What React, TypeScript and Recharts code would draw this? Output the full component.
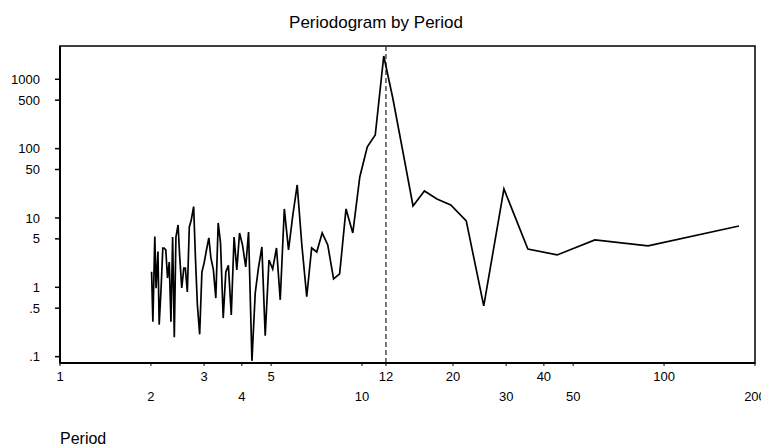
import React from 'react';
import {
  LineChart,
  Line,
  XAxis,
  YAxis,
  ReferenceLine,
  ReferenceArea,
} from 'recharts';

// periods (series length 177 / harmonic k, k = 1..88)
const periods = [
  177, 88.5, 59, 44.25, 35.4, 29.5, 25.29, 22.13, 19.67, 17.7,
  16.09, 14.75, 13.62, 12.64, 11.8, 11.06, 10.41, 9.83, 9.32, 8.85,
  8.43, 8.05, 7.7, 7.38, 7.08, 6.81, 6.56, 6.32, 6.1, 5.9,
  5.71, 5.53, 5.36, 5.21, 5.06, 4.92, 4.78, 4.66, 4.54, 4.43,
  4.32, 4.21, 4.12, 4.02, 3.93, 3.85, 3.77, 3.69, 3.61, 3.54,
  3.47, 3.4, 3.34, 3.28, 3.22, 3.16, 3.11, 3.05, 3.0, 2.95,
  2.9, 2.85, 2.81, 2.77, 2.72, 2.68, 2.64, 2.6, 2.57, 2.53,
  2.49, 2.46, 2.42, 2.39, 2.36, 2.33, 2.3, 2.27, 2.24, 2.21,
  2.19, 2.16, 2.13, 2.11, 2.08, 2.06, 2.03, 2.01,
];

const periodogram = [
  7.67, 3.95, 4.82, 2.93, 3.56, 26.2, 0.54, 9.06, 15.4, 18.8,
  24.5, 14.9, 95.7, 537, 2168, 157, 106, 39.0, 6.08, 13.5,
  1.56, 1.32, 4.08, 6.08, 3.23, 3.69, 0.73, 4.08, 29.9, 11.0,
  3.46, 13.5, 0.66, 3.69, 1.84, 2.48, 0.2, 3.82, 1.9, 0.83,
  0.087, 6.28, 1.97, 4.08, 6.08, 1.78, 5.32, 0.4, 2.07, 1.66,
  0.36, 4.36, 8.47, 0.7, 1.78, 2.65, 5.15, 3.34, 2.24, 1.66,
  0.21, 0.56, 2.48, 14.6, 9.35, 7.42, 0.86, 1.9, 1.9, 0.98,
  2.83, 7.93, 5.32, 0.19, 5.32, 0.32, 2.32, 1.36, 3.46, 3.69,
  3.69, 0.92, 0.29, 3.27, 0.97, 5.38, 0.32, 1.68,
];

const xTicks = [1, 2, 3, 4, 5, 10, 12, 20, 30, 40, 50, 100, 200];
const xLowerRow = [2, 4, 10, 30, 50, 200];
const yTicks = [0.1, 0.5, 1, 5, 10, 50, 100, 500, 1000];
const yLabels = ['.1', '.5', '1', '5', '10', '50', '100', '500', '1000'];

const X_DOMAIN = [1, 200];
const Y_DOMAIN = [0.081, 3020];

const data = periods.map((p, i) => ({ period: p, value: periodogram[i] }));

const FONT = '"Liberation Sans", Arial, sans-serif';

const XTick = ({ x, y, payload }: any) => {
  const low = xLowerRow.includes(payload.value);
  return (
    <text
      x={x}
      y={y + (low ? 35 : 15)}
      textAnchor="middle"
      fontSize={13}
      fontFamily={FONT}
      fill="#000"
    >
      {payload.value}
    </text>
  );
};

export default function App() {
  return (
    <div style={{ position: 'absolute', left: 0, top: 0, width: 761, height: 448 }}>
      <LineChart
        width={761}
        height={448}
        data={data}
        margin={{ top: 46, right: 6, left: 0, bottom: 0 }}
      >
        <XAxis
          dataKey="period"
          type="number"
          scale="log"
          domain={X_DOMAIN}
          ticks={xTicks}
          interval={0}
          allowDataOverflow
          height={85}
          tickSize={3}
          tickMargin={0}
          tick={<XTick />}
          axisLine={{ stroke: '#000', strokeWidth: 2 }}
          tickLine={{ stroke: '#000' }}
        />
        <YAxis
          type="number"
          scale="log"
          domain={Y_DOMAIN}
          ticks={yTicks}
          interval={0}
          allowDataOverflow
          width={60}
          tickSize={5}
          tickMargin={15}
          tickFormatter={(v: number) => yLabels[yTicks.indexOf(v)] ?? String(v)}
          tick={{ fontSize: 13, fontFamily: FONT, fill: '#000' }}
          axisLine={{ stroke: '#000', strokeWidth: 2 }}
          tickLine={{ stroke: '#000', strokeWidth: 1.5 }}
        />
        <ReferenceArea
          x1={X_DOMAIN[0]}
          x2={X_DOMAIN[1]}
          y1={Y_DOMAIN[0]}
          y2={Y_DOMAIN[1]}
          fill="none"
          stroke="#000"
          strokeWidth={1.5}
          ifOverflow="extendDomain"
        />
        <ReferenceLine x={12} stroke="#333" strokeWidth={1.3} strokeDasharray="5 3" />
        <Line
          dataKey="value"
          stroke="#000"
          strokeWidth={1.7}
          dot={false}
          isAnimationActive={false}
        />
      </LineChart>
      <svg
        width={761}
        height={448}
        style={{ position: 'absolute', left: 0, top: 0, pointerEvents: 'none' }}
      >
        <text x={376} y={28} textAnchor="middle" fontSize={17} fontFamily={FONT} fill="#000">
          Periodogram by Period
        </text>
        <text x={60} y={444} fontSize={16} fontFamily={FONT} fill="#000">
          Period
        </text>
      </svg>
    </div>
  );
}
